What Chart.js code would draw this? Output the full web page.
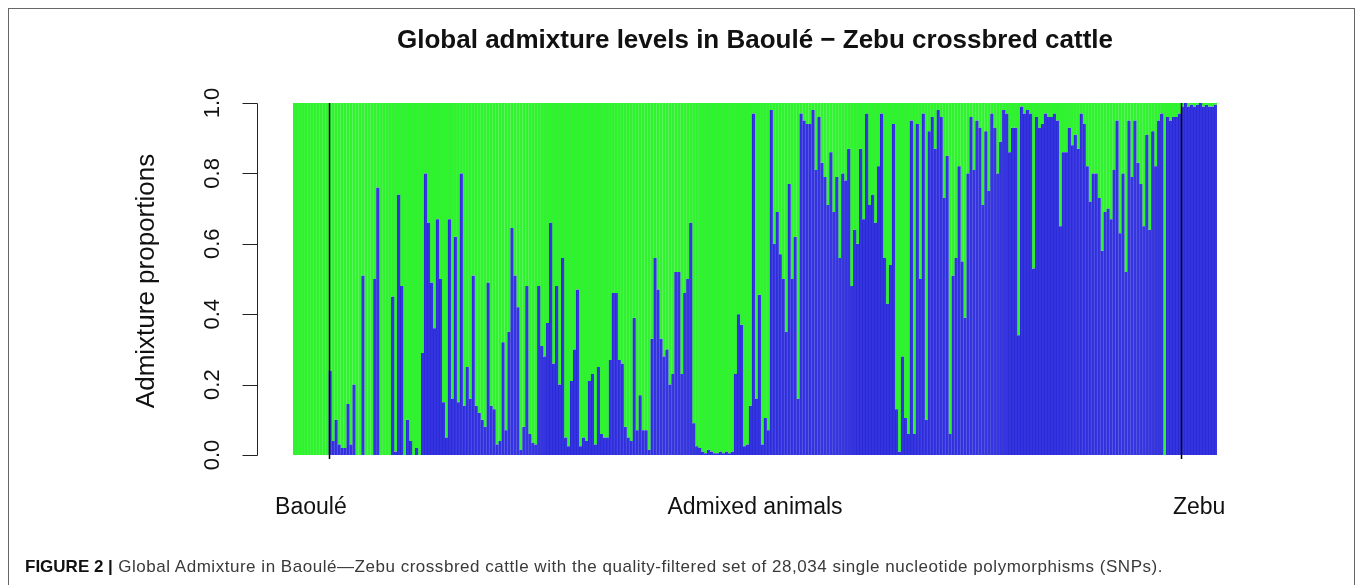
<!DOCTYPE html>
<html lang="en">
<head>
  <meta charset="UTF-8">
  <title>Global admixture levels</title>
  <script src="https://cdn.jsdelivr.net/npm/chart.js"></script>
  <style>
    html, body {
      margin: 0;
      padding: 0;
      background: #fff;
      overflow: hidden;
    }
    .page {
      position: relative;
      width: 1358px;
      height: 585px;
    }
    .frame {
      position: absolute;
      left: 8px;
      top: 8px;
      width: 1345px;
      height: 620px;
      border: 1px solid #666;
    }
    canvas {
      position: absolute;
      left: 0;
      top: 0;
    }
    .caption {
      position: absolute;
      left: 25px;
      top: 557px;
      font-family: "Liberation Sans", Arial, sans-serif;
      font-size: 17px;
      letter-spacing: 0.53px;
      line-height: 20px;
      color: #3a3a3a;
      white-space: nowrap;
    }
    .caption b {
      color: #111;
      letter-spacing: 0;
    }
  </style>
</head>
<body>
  <div class="page">
    <div class="frame"></div>
    <canvas id="admixChart" width="1358" height="585"></canvas>
    <div class="caption"><b>FIGURE 2 |</b> Global Admixture in Baoulé—Zebu crossbred cattle with the quality-filtered set of 28,034 single nucleotide polymorphisms (SNPs).</div>
  </div>

  <script>
    // zebu (blue) ancestry proportion per animal
    const baouleAnimals = [0, 0, 0, 0, 0, 0, 0, 0, 0, 0, 0, 0];

    const admixedAnimals = [
      0.24, 0.04, 0.1, 0.03, 0.02, 0.02, 0.145, 0.03, 0.2, 0, 0, 0.51, 0, 0, 0, 0.5, 0.76, 0, 0, 0,
      0, 0.45, 0.01, 0.74, 0.48, 0, 0.1, 0.04, 0, 0.02, 0, 0.29, 0.8, 0.66, 0.49, 0.36, 0.67, 0.5, 0.15,
      0.05, 0.67, 0.16, 0.62, 0.15, 0.8, 0.14, 0.25, 0.16, 0.51, 0.14, 0.12, 0.1, 0.08, 0.49, 0.14, 0.13, 0.03, 0.04, 0.32,
      0.07, 0.35, 0.645, 0.51, 0.42, 0.015, 0.08, 0.48, 0.06, 0.035, 0.03, 0.48, 0.31, 0.28, 0.375, 0.66, 0.26, 0.48, 0.2, 0.56,
      0.05, 0.025, 0.21, 0.3, 0.47, 0.025, 0.05, 0.04, 0.21, 0.23, 0.03, 0.25,
      0.06, 0.05, 0.05, 0.27, 0.46, 0.46, 0.27, 0.26, 0.08, 0.05, 0.04, 0.39, 0.07, 0.17, 0.07, 0.07, 0.015, 0.33, 0.56, 0.47,
      0.33, 0.28, 0.3, 0.2, 0.23, 0.52, 0.52, 0.23, 0.46, 0.5, 0.66, 0.09, 0.025, 0.02, 0.01, 0.005, 0.015, 0.01, 0.005, 0.005,
      0.01, 0.005, 0.01, 0.005, 0.01, 0.23, 0.4, 0.37, 0.025, 0.03, 0.14, 0.97,
      0.16, 0.455, 0.03, 0.105, 0.07, 0.98, 0.6, 0.69, 0.57, 0.5, 0.35, 0.77, 0.5, 0.62, 0.16, 0.97, 0.95, 0.94, 0.94, 0.98,
      0.81, 0.96, 0.83, 0.79, 0.71, 0.86, 0.69, 0.79, 0.56, 0.8, 0.78, 0.87, 0.48, 0.64, 0.6, 0.87, 0.67, 0.97, 0.71, 0.74,
      0.66, 0.82, 0.97, 0.56, 0.43, 0.54, 0.94, 0.13, 0.01, 0.28, 0.105, 0.06,
      0.95, 0.06, 0.94, 0.5, 0.97, 0.1, 0.92, 0.96, 0.87, 0.98, 0.96, 0.73, 0.85, 0.06, 0.51, 0.56, 0.82, 0.55, 0.39, 0.8,
      0.96, 0.81, 0.95, 0.93, 0.71, 0.92, 0.75, 0.97, 0.93, 0.8, 0.89, 0.98, 0.97, 0.86, 0.93, 0.93, 0.34, 0.99, 0.97, 0.98,
      0.97, 0.53, 0.96, 0.93, 0.94, 0.97, 0.96, 0.96, 0.97, 0.95, 0.65, 0.86,
      0.86, 0.93, 0.88, 0.91, 0.87, 0.97, 0.94, 0.82, 0.72, 0.8, 0.8, 0.73, 0.58, 0.69, 0.7, 0.67, 0.81, 0.95, 0.63, 0.8,
      0.52, 0.95, 0.79, 0.95, 0.83, 0.77, 0.65, 0.91, 0.64, 0.92, 0.82, 0.95, 0.97, 0, 0.96, 0.95, 0.96, 0.96, 0.97
    ];

    const zebuAnimals = [0.99, 1.0, 0.99, 0.995, 0.99, 0.995, 1.0, 0.99, 0.995, 0.99, 0.99, 0.995];

    const groupNames = ['Baoulé', 'Admixed animals', 'Zebu'];
    const yTicks = [0, 0.2, 0.4, 0.6, 0.8, 1.0];

    const chartTitle = 'Global admixture levels in Baoulé \u2212 Zebu crossbred cattle';
    const yTitle = 'Admixture proportions';

    const groups = [baouleAnimals, admixedAnimals, zebuAnimals];
    const zebuShare = [].concat(...groups);
    const baouleShare = zebuShare.map(v => 1 - v);
    const labels = zebuShare.map((v, i) => 'animal ' + (i + 1));

    const FONT = '"Liberation Sans", Arial, sans-serif';

    // axis, group separators and all texts are drawn R-style around the plot area
    const admixDecor = {
      id: 'admixDecor',
      afterDatasetsDraw(chart) {
        const ctx = chart.ctx;
        const x = chart.scales.x;
        const y = chart.scales.y;
        const step = (x.right - x.left) / zebuShare.length;

        ctx.save();

        // group boundaries
        let start = 0;
        const bounds = [];
        groups.forEach(g => {
          bounds.push([start, start + g.length]);
          start += g.length;
        });
        ctx.strokeStyle = '#000';
        ctx.lineWidth = 1.5;
        [bounds[0][1], bounds[2][0]].forEach(idx => {
          const px = Math.round(x.getPixelForValue(idx) - step / 2) + 0.5;
          ctx.beginPath();
          ctx.moveTo(px, y.getPixelForValue(1));
          ctx.lineTo(px, y.getPixelForValue(0) + 4);
          ctx.stroke();
        });

        // y axis
        const axX = 257.5;
        ctx.lineWidth = 1;
        ctx.strokeStyle = '#222';
        ctx.beginPath();
        ctx.moveTo(axX, Math.round(y.getPixelForValue(0)) + 0.5);
        ctx.lineTo(axX, Math.round(y.getPixelForValue(1)) + 0.5);
        yTicks.forEach(t => {
          const py = Math.round(y.getPixelForValue(t)) + 0.5;
          ctx.moveTo(axX, py);
          ctx.lineTo(axX - 15, py);
        });
        ctx.stroke();

        ctx.fillStyle = '#111';
        ctx.textAlign = 'center';
        ctx.textBaseline = 'middle';
        ctx.font = '22px ' + FONT;
        yTicks.forEach(t => {
          ctx.save();
          ctx.translate(212, y.getPixelForValue(t));
          ctx.rotate(-Math.PI / 2);
          ctx.fillText(t.toFixed(1), 0, 1);
          ctx.restore();
        });

        ctx.font = '26px ' + FONT;
        ctx.save();
        ctx.translate(147, (y.top + y.bottom) / 2 + 2);
        ctx.rotate(-Math.PI / 2);
        ctx.fillText(yTitle, 0, 0);
        ctx.restore();

        // group names under the bars
        ctx.font = '23px ' + FONT;
        bounds.forEach((b, i) => {
          const cx = (x.getPixelForValue(b[0]) + x.getPixelForValue(b[1] - 1)) / 2;
          ctx.fillText(groupNames[i], cx, 508);
        });

        // title
        ctx.font = 'bold 26px ' + FONT;
        ctx.fillText(chartTitle, (x.left + x.right) / 2, 41);

        ctx.restore();
      }
    };

    new Chart(document.getElementById('admixChart').getContext('2d'), {
      type: 'bar',
      data: {
        labels: labels,
        datasets: [
          {
            label: 'Zebu',
            data: zebuShare,
            backgroundColor: '#3434e2',
            borderColor: '#2a2ad2',
            borderWidth: { left: 1, right: 0, top: 0, bottom: 0 },
            borderSkipped: false,
            barPercentage: 1,
            categoryPercentage: 1
          },
          {
            label: 'Baoulé',
            data: baouleShare,
            backgroundColor: '#2cf52c',
            borderColor: '#3ceb3c',
            borderWidth: { left: 1, right: 0, top: 0, bottom: 0 },
            borderSkipped: false,
            barPercentage: 1,
            categoryPercentage: 1
          }
        ]
      },
      options: {
        responsive: false,
        animation: false,
        devicePixelRatio: 1,
        layout: {
          padding: { left: 293, right: 141, top: 103, bottom: 130 }
        },
        plugins: {
          legend: { display: false },
          tooltip: { enabled: false },
          title: { display: false }
        },
        scales: {
          x: {
            display: false,
            stacked: true
          },
          y: {
            display: false,
            stacked: true,
            min: 0,
            max: 1
          }
        }
      },
      plugins: [admixDecor]
    });
  </script>
</body>
</html>
